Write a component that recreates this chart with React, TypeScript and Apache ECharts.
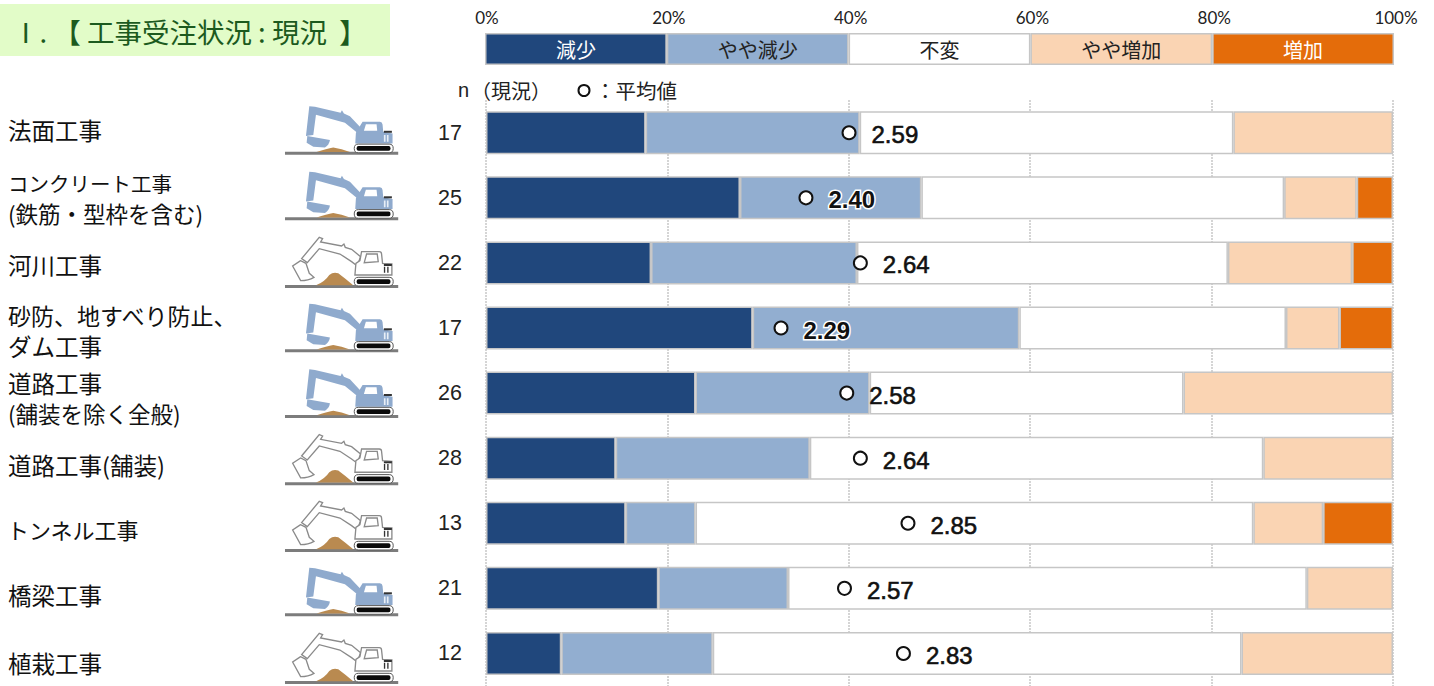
import React, { useEffect, useRef } from "react";
import * as echarts from "echarts";

// ---------- data ----------
const workTypes = ["法面工事", "コンクリート工事\n(鉄筋・型枠を含む)", "河川工事", "砂防、地すべり防止、\nダム工事", "道路工事\n(舗装を除く全般)", "道路工事(舗装)", "トンネル工事", "橋梁工事", "植栽工事"];
const respondents = ["17", "25", "22", "17", "26", "28", "13", "21", "12"];
const decrease = [17.6, 28, 18.2, 29.4, 23.1, 14.3, 15.4, 19, 8.3];
const slightDecrease = [23.6, 20, 22.7, 29.4, 19.2, 21.4, 7.7, 14.3, 16.7];
const unchanged = [41.2, 40, 40.9, 29.4, 34.6, 50, 61.5, 57.2, 58.3];
const slightIncrease = [17.6, 8, 13.7, 5.9, 23.1, 14.3, 7.7, 9.5, 16.7];
const increase = [0, 4, 4.5, 5.9, 0, 0, 7.7, 0, 0];
const meanScores = [2.59, 2.4, 2.64, 2.29, 2.58, 2.64, 2.85, 2.57, 2.83];
const colouredRows = [true, true, false, true, true, false, false, true, false];
const keyNames = ["減少", "やや減少", "不変", "やや増加", "増加"];
const keyShares = [20, 20, 20, 20, 20];
const meanHalo = [false, true, false, true, false, false, false, false, false];

// ---------- styles and layout ----------
const shareSeries = [decrease, slightDecrease, unchanged, slightIncrease, increase];
const fills = ["#20477c", "#92aed0", "#ffffff", "#fad4b3", "#e46c0a"];
const keyText = ["#ffffff", "#222222", "#222222", "#222222", "#ffffff"];
const edge = "#c6c6c6";
const jp = '"Noto Sans CJK JP", sans-serif';
const latin = '"Liberation Sans", Arial, sans-serif';
const labelLayout = [
  { x: [8], y: [130], s: [23.5] },
  { x: [8, 8], y: [183, 213], s: [20.5, 22.5] },
  { x: [8], y: [265], s: [23.5] },
  { x: [8, 8], y: [315, 346], s: [23, 23.5] },
  { x: [8, 8], y: [383, 413], s: [23.5, 22.5] },
  { x: [8], y: [465], s: [23.5] },
  { x: [7], y: [529], s: [22] },
  { x: [8], y: [595], s: [23.5] },
  { x: [8], y: [663], s: [23.5] },
];
const groundYs = [153.5, 219, 286.7, 351, 416.7, 484, 550.7, 615, 682.7];

const shapes: Record<string, string> = {
  exGround: "M45,185 L385,185 L385,194 L45,194 Z",
  exTrack: "M265,162 L358,162 Q370,162 370,175 Q370,188 358,188 L265,188 Q253,188 253,175 Q253,162 265,162 Z",
  exTrackIn: "M266,168 L356,168 Q362,168 362,175 Q362,182 356,182 L266,182 Q260,182 260,175 Q260,168 266,168 Z",
  exCw: "M342,122 L366,122 L366,128 L342,128 Z",
  blArm: "M118,48 L135,50 L212,68 L216,60 L222,70 L240,78 L272,112 L262,128 L225,98 L138,74 L130,135 L108,138 Z",
  blBucket: "M112,138 L180,150 Q178,165 165,172 L130,170 L110,158 Z",
  blBody: "M278,95 L330,95 Q337,95 338,103 L340,125 L368,130 L368,160 L256,160 L258,128 Z",
  blWin: "M288,102 L320,102 L322,122 L282,122 Z",
  blBars: "M342,135 L347,135 L347,155 L342,155 Z M351,135 L356,135 L356,155 L351,155 Z",
  blMound: "M140,186 Q170,175 190,172 Q215,175 240,186 Z",
  whArm: "M148,42 L158,46 L152,56 L215,68 L222,62 L226,72 L245,78 L272,100 L262,128 L245,115 L210,92 L148,76 L112,118 L95,106 Z",
  whBucket: "M92,112 L68,128 L92,172 Q115,172 132,162 L118,150 L108,120 Z",
  whBody: "M275,85 L328,85 Q335,85 335,92 L338,120 L366,122 L366,155 L255,155 L258,120 L270,112 Z",
  whWin: "M290,92 L322,92 L325,115 L283,118 Z",
  whBars: "M342,130 L346,130 L346,148 L342,148 Z M352,130 L356,130 L356,148 L352,148 Z",
  whMound: "M138,186 Q165,175 178,155 Q190,145 205,150 Q225,165 250,186 Z",
};
Object.keys(shapes).forEach((k) => echarts.graphic.registerShape(k, echarts.graphic.extendPath(shapes[k], {})));

function excavator(coloured: boolean, groundY: number) {
  const part = (type: string, fill: string, stroke?: string, lineWidth = 0) => ({
    type,
    style: { fill, stroke: stroke || "none", lineWidth },
  });
  const blue = "#8faacd";
  const line = "#8a8a8a";
  const common = [
    part("exTrack", "#ffffff", "#555555", 3),
    part("exTrackIn", "#0a0a0a"),
    part("exCw", "#333333"),
  ];
  const parts = coloured
    ? [
        part("exGround", "#7c7c7c"),
        part("blMound", "#b98a50"),
        part("blArm", blue),
        part("blBucket", blue),
        part("blBody", blue),
        part("blWin", "#ffffff"),
        part("blBars", "#e8eef6"),
        ...common,
      ]
    : [
        part("exGround", "#7c7c7c"),
        part("whMound", "#b98a50"),
        part("whArm", "#ffffff", line, 4),
        part("whBucket", "#ffffff", line, 4),
        part("whBody", "#ffffff", line, 4),
        part("whWin", "#ffffff", line, 4),
        part("whBars", "#333333"),
        ...common,
      ];
  return { type: "group", x: 270, y: groundY - 190 / 3, scaleX: 1 / 3, scaleY: 1 / 3, children: parts };
}

export default function App() {
  const ref = useRef<HTMLDivElement>(null);
  useEffect(() => {
    const chart = echarts.init(ref.current!, undefined, { renderer: "svg" });
    const rowLabels: any[] = [];
    workTypes.forEach((name, i) => {
      name.split("\n").forEach((line, j) => {
        rowLabels.push({
          type: "text",
          x: labelLayout[i].x[j],
          y: labelLayout[i].y[j],
          style: { text: line, fill: "#111111", font: `${labelLayout[i].s[j]}px ${jp}`, textVerticalAlign: "middle", textBaseline: "middle" },
        });
      });
    });
    const option: any = {
      animation: false,
      backgroundColor: "#ffffff",
      grid: [
        { left: 486, top: 100.2, width: 907, height: 590, containLabel: false },
        { left: 485, top: 33, width: 909, height: 32, containLabel: false },
      ],
      xAxis: [
        {
          type: "value", gridIndex: 0, min: 0, max: 100, interval: 20,
          axisLabel: { show: false }, axisLine: { show: false }, axisTick: { show: false },
          splitLine: { show: true, lineStyle: { type: "dotted", color: "#b5b5b5", width: 1.5 } },
        },
        {
          type: "value", gridIndex: 1, position: "top", min: 0, max: 100, interval: 20,
          axisLabel: { color: "#222222", fontFamily: "Lato, sans-serif", fontSize: 17, margin: 7, padding: [0, 0, 0, 4], formatter: "{value}%" },
          axisLine: { show: false }, axisTick: { show: false }, splitLine: { show: false },
        },
        {
          type: "value", gridIndex: 0, min: 0.989, max: 4.989, show: false, splitLine: { show: false },
        },
      ],
      yAxis: [
        {
          type: "category", gridIndex: 0, inverse: true, data: workTypes,
          axisLabel: { show: false }, axisLine: { show: false }, axisTick: { show: false },
        },
        {
          type: "category", gridIndex: 0, inverse: true, position: "left", data: respondents,
          axisLabel: { color: "#222222", fontFamily: latin, fontSize: 21.5, margin: 24, padding: [0, 0, 3, 0] },
          axisLine: { show: false }, axisTick: { show: false },
        },
        {
          type: "category", gridIndex: 1, data: ["凡例"], show: false,
        },
      ],
      series: [
        ...keyNames.map((name, s) => ({
          type: "bar", name, stack: "share", xAxisIndex: 0, yAxisIndex: 0, barWidth: 43,
          data: shareSeries[s].map((v) => (v === 0 ? null : v)),
          itemStyle: { color: fills[s], borderColor: edge, borderWidth: 1.5 },
          silent: true,
        })),
        ...keyNames.map((name, s) => ({
          type: "bar", name, stack: "key", xAxisIndex: 1, yAxisIndex: 2, barWidth: 32,
          data: [keyShares[s]],
          itemStyle: { color: fills[s], borderColor: edge, borderWidth: 1.5 },
          label: { show: true, position: "inside", formatter: "{a}", color: keyText[s], fontFamily: jp, fontSize: 20 },
          silent: true,
        })),
        {
          type: "scatter", name: "平均値", xAxisIndex: 2, yAxisIndex: 0, z: 5,
          symbol: "circle", symbolSize: 13,
          itemStyle: { color: "#ffffff", borderColor: "#111111", borderWidth: 2, opacity: 1 },
          data: meanScores.map((m, i) => ({
            value: [m, workTypes[i]],
            label: meanHalo[i]
              ? { textBorderColor: "#ffffff", textBorderWidth: 3, fontWeight: "bold" }
              : { textBorderColor: "#111111", textBorderWidth: 0.6 },
          })),
          label: {
            show: true, position: "right", distance: 15, offset: [0, 2], color: "#111111",
            fontFamily: latin, fontSize: 24,
            formatter: (p: any) => p.value[0].toFixed(2),
          },
        },
      ],
      graphic: [
        { type: "rect", shape: { x: 0, y: 4, width: 390, height: 52 }, style: { fill: "#e2fcc8" } },
        {
          type: "text", x: 12, y: 31,
          style: { text: "Ⅰ. 【 工事受注状況 : 現況  】", fill: "#1c5a1e", font: `27.5px ${jp}`, textVerticalAlign: "middle", textBaseline: "middle" },
        },
        { type: "text", x: 458, y: 90, style: { text: "n", fill: "#222222", font: `20px ${latin}`, textVerticalAlign: "middle", textBaseline: "middle" } },
        { type: "text", x: 471, y: 90, style: { text: "（現況）", fill: "#222222", font: `20px ${jp}`, textVerticalAlign: "middle", textBaseline: "middle" } },
        { type: "circle", shape: { cx: 584, cy: 90.5, r: 5.5 }, style: { fill: "#ffffff", stroke: "#111111", lineWidth: 2 } },
        { type: "text", x: 595, y: 90, style: { text: "：平均値", fill: "#222222", font: `20.5px ${jp}`, textVerticalAlign: "middle", textBaseline: "middle" } },
        ...rowLabels,
        ...colouredRows.map((c, i) => excavator(c, groundYs[i])),
      ],
    };
    chart.setOption(option);
    return () => chart.dispose();
  }, []);
  return <div ref={ref} style={{ position: "absolute", left: 0, top: 0, width: 1434, height: 686 }} />;
}
